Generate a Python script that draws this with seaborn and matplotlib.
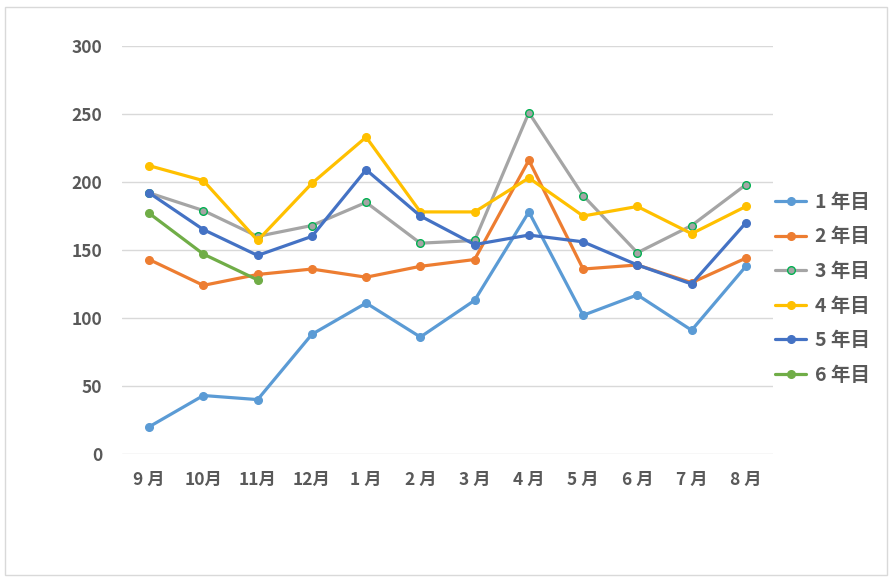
import matplotlib
matplotlib.use("Agg")
import matplotlib.pyplot as plt
import seaborn as sns
import numpy as np
import pandas as pd
from matplotlib.patches import Rectangle

# data
months = ["9 月", "10月", "11月", "12月", "1 月", "2 月", "3 月", "4 月", "5 月", "6 月", "7 月", "8 月"]
year1 = [20, 43, 40, 88, 111, 86, 113, 178, 102, 117, 91, 138]
year2 = [143, 124, 132, 136, 130, 138, 143, 216, 136, 139, 126, 144]
year3 = [192, 179, 160, 168, 185, 155, 157, 251, 190, 148, 168, 198]
year4 = [212, 201, 157, 199, 233, 178, 178, 203, 175, 182, 162, 182]
year5 = [192, 165, 146, 160, 209, 175, 154, 161, 156, 139, 125, 170]
year6 = [177, 147, 128]

labels = ["1 年目", "2 年目", "3 年目", "4 年目", "5 年目", "6 年目"]
colors = ["#5B9BD5", "#ED7D31", "#A5A5A5", "#FFC000", "#4472C4", "#70AD47"]
edges = ["#5B9BD5", "#ED7D31", "#00B050", "#FFC000", "#4472C4", "#70AD47"]
series = [year1, year2, year3, year4, year5, year6]

sns.set_style("white")
plt.rcParams["font.family"] = ["Noto Sans CJK JP", "DejaVu Sans"]

fig = plt.figure(figsize=(8.93, 5.8), dpi=100)
ax = fig.add_axes([122 / 893, 1 - 454 / 580, (773 - 122) / 893, (454 - 46) / 580])

# light frame around the whole chart
fig.patches.append(Rectangle((5 / 893, 5 / 580), 882 / 893, 568 / 580, transform=fig.transFigure,
                             fill=False, edgecolor="#D9D9D9", linewidth=1))

for lab, vals, col, ec in zip(labels, series, colors, edges):
    df = pd.DataFrame({"x": np.arange(len(vals)), "y": vals})
    sns.lineplot(data=df, x="x", y="y", ax=ax, color=col, linewidth=2.3,
                 marker="o", markersize=5.5, markerfacecolor=col, markeredgecolor=ec,
                 markeredgewidth=1, label=lab)

ax.set_xlim(-0.5, 11.5)
ax.set_ylim(0, 300)
ax.set_yticks(range(0, 301, 50))
ax.set_xticks(range(len(months)))
ax.set_xticklabels(months)
ax.set_xlabel("")
ax.set_ylabel("")
ax.grid(axis="y", color="#D9D9D9", linewidth=1)
ax.set_axisbelow(True)
for s in ax.spines.values():
    s.set_visible(False)
ax.tick_params(axis="both", length=0, labelsize=12.5, labelcolor="#595959")
ax.tick_params(axis="y", pad=14)
ax.tick_params(axis="x", pad=12)
for t in ax.get_xticklabels() + ax.get_yticklabels():
    t.set_fontweight("bold")

leg = ax.legend(loc="center left", bbox_to_anchor=(1.003, 0.405), frameon=False,
                fontsize=14, handlelength=1.6, labelspacing=0.8, handletextpad=0.45,
                borderaxespad=0.0, borderpad=0.0)
for t in leg.get_texts():
    t.set_color("#595959")
    t.set_fontweight("bold")

fig.savefig("out.png", dpi=100)
